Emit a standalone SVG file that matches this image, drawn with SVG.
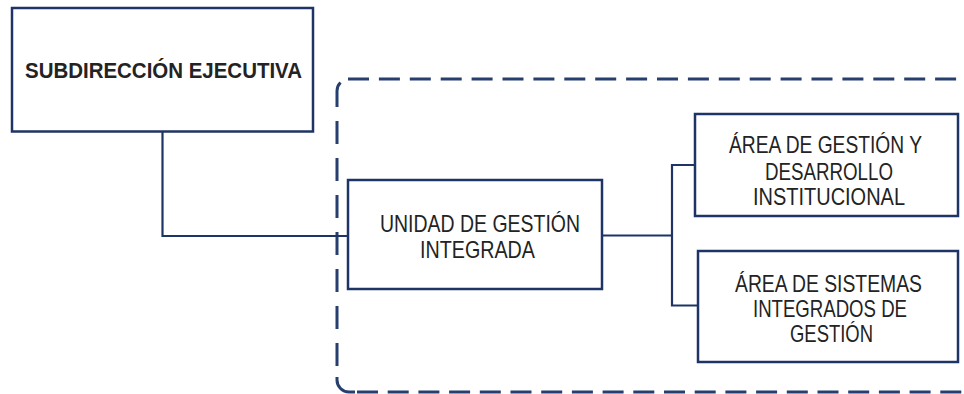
<svg xmlns="http://www.w3.org/2000/svg" width="964" height="394" viewBox="0 0 964 394">
<style>
.box{fill:#ffffff;stroke:#1f3466;stroke-width:2.5}
.t{font-family:"Liberation Sans",Arial,sans-serif;font-size:24px;fill:#232323;text-anchor:middle}
.tb{font-family:"Liberation Sans",Arial,sans-serif;font-size:22px;font-weight:bold;fill:#232323;text-anchor:middle}
.ln{fill:none;stroke:#1f3466;stroke-width:2.2}
.dash{fill:none;stroke:#263f6f;stroke-width:3;stroke-linecap:butt}
</style>
<rect width="964" height="394" fill="#ffffff"/>
<g id="container">
<path class="dash" d="M337 107 L337 91 A12 12 0 0 1 340.5 82.5"/>
<line class="dash" x1="337" y1="121" x2="337" y2="366" stroke-dasharray="23 14"/>
<path class="dash" d="M337 377 L337 380 A12 12 0 0 0 349 392 L355 392"/>
<line class="dash" x1="348" y1="79" x2="964" y2="79" stroke-dasharray="21 9.9"/>
<line class="dash" x1="357" y1="392" x2="964" y2="392" stroke-dasharray="21 9.7"/>
</g>
<g id="connectors">
<polyline class="ln" points="162.5,131 162.5,236 348,236"/>
<line class="ln" x1="602" y1="235.5" x2="672" y2="235.5"/>
<polyline class="ln" points="695,165 672,165 672,305.5 698,305.5"/>
</g>
<g id="subdireccion">
<rect class="box" x="12" y="8" width="301" height="123.5"/>
<text class="tb" x="163.5" y="78" textLength="277" lengthAdjust="spacingAndGlyphs">SUBDIRECCIÓN EJECUTIVA</text>
</g>
<g id="unidad">
<rect class="box" x="348" y="180" width="254" height="109"/>
<text class="t" x="480" y="232" textLength="200" lengthAdjust="spacingAndGlyphs">UNIDAD DE GESTIÓN</text>
<text class="t" x="477.5" y="258" textLength="115" lengthAdjust="spacingAndGlyphs">INTEGRADA</text>
</g>
<g id="area-gestion">
<rect class="box" x="695" y="114" width="263" height="102"/>
<text class="t" x="825.5" y="153" textLength="193" lengthAdjust="spacingAndGlyphs">ÁREA DE GESTIÓN Y</text>
<text class="t" x="829" y="180" textLength="128" lengthAdjust="spacingAndGlyphs">DESARROLLO</text>
<text class="t" x="829" y="205" textLength="152" lengthAdjust="spacingAndGlyphs">INSTITUCIONAL</text>
</g>
<g id="area-sistemas">
<rect class="box" x="698" y="251" width="260" height="111"/>
<text class="t" x="828.5" y="292" textLength="187" lengthAdjust="spacingAndGlyphs">ÁREA DE SISTEMAS</text>
<text class="t" x="830" y="317" textLength="154" lengthAdjust="spacingAndGlyphs">INTEGRADOS DE</text>
<text class="t" x="831.5" y="342" textLength="83" lengthAdjust="spacingAndGlyphs">GESTIÓN</text>
</g>
</svg>
